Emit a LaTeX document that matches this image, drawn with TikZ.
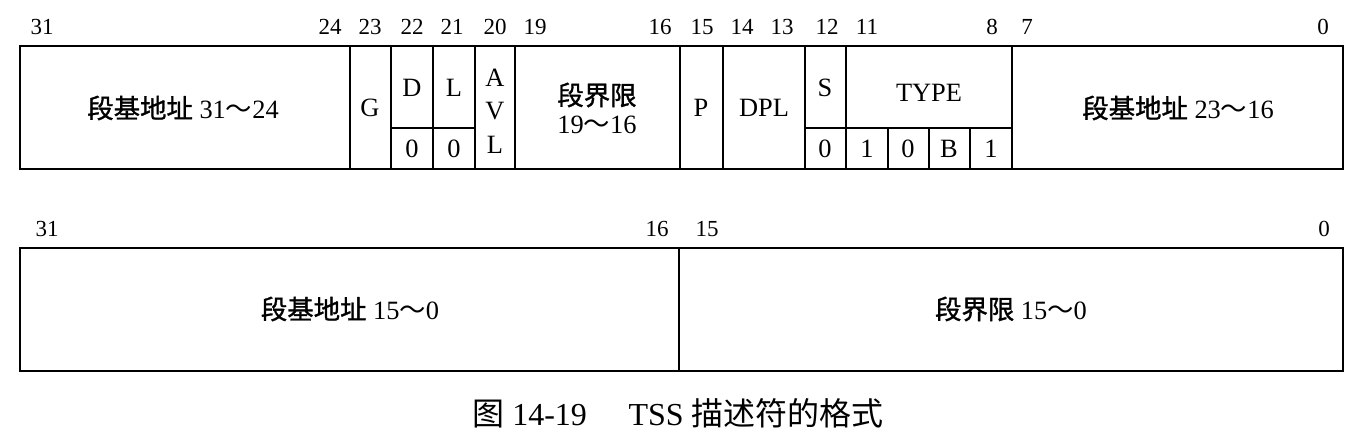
\documentclass[tikz,border=0pt]{standalone}
\usepackage{fontspec}
\setmainfont{Liberation Serif}
\newfontfamily\cjk{Noto Sans CJK SC}
\newfontfamily\cjkb[FakeBold=1.2]{Noto Sans CJK SC}
\begin{document}
\begin{tikzpicture}[x=0.5pt,y=-0.5pt,line width=1pt,
  bit/.style={font=\fontsize{11.5}{13}\selectfont,inner sep=0pt},
  lbl/.style={font=\fontsize{13.2}{15}\selectfont,inner sep=0pt,align=center},
  captxt/.style={font=\fontsize{16}{19}\selectfont,inner sep=0pt}]
\useasboundingbox (0,0) rectangle (1368,446);
% ---- top row frame ----
\draw (20,46) rectangle (1343,169);
\foreach \x in {350,391,433,475,515,680,723,805,846,1012} \draw (\x,46) -- (\x,169);
\draw (391,128) -- (475,128);
\draw (805,128) -- (1012,128);
\foreach \x in {888,929,970} \draw (\x,128) -- (\x,169);
% ---- top row texts ----
\node[lbl] (b3124) at (183,108) {{\cjkb 段基地址} 31{\cjk ～}24};
\node[lbl] (g) at (370,108) {G};
\node[lbl] (d) at (412,88) {D};
\node[lbl] (d0) at (412,149) {0};
\node[lbl] (l) at (454,88) {L};
\node[lbl] (l0) at (454,149) {0};
\node[lbl] (a1) at (495,78) {A};
\node[lbl] (a2) at (495,111) {V};
\node[lbl] (a3) at (495,145) {L};
\node[lbl] (lim1) at (597,95) {\cjkb 段界限};
\node[lbl] (lim2) at (597,125) {19{\cjk ～}16};
\node[lbl] (p) at (701,108) {P};
\node[lbl] (dpl) at (764,108) {DPL};
\node[lbl] (s) at (825,88) {S};
\node[lbl] (s0) at (825,149) {0};
\node[lbl] (type) at (929,93) {TYPE};
\node[lbl] (t1) at (867,149) {1};
\node[lbl] (t2) at (908,149) {0};
\node[lbl] (t3) at (949,149) {B};
\node[lbl] (t4) at (991,149) {1};
\node[lbl] (b2316) at (1178,108) {{\cjkb 段基地址} 23{\cjk ～}16};
% ---- top bit numbers ----
\foreach \x/\t [count=\i] in {42/31,330/24,370/23,412/22,452/21,495/20,535/19,660/16,702/15,742/14,782/13,827/12,867/11,992/8,1027/7,1323/0}
  \node[bit] (tb\i) at (\x,27) {\t};
% ---- bottom row ----
\draw (20,248) rectangle (1343,371);
\draw (679,248) -- (679,371);
\node[lbl] (b150) at (350,309) {{\cjkb 段基地址} 15{\cjk ～}0};
\node[lbl] (lim150) at (1011,309) {{\cjkb 段界限} 15{\cjk ～}0};
\foreach \x/\t [count=\i] in {47/31,657/16,707/15,1324/0}
  \node[bit] (bb\i) at (\x,229) {\t};
% ---- caption ----
\node[captxt] (caption) at (678,413) {{\cjk 图} 14-19\hspace{1.3em}TSS {\cjk 描述符的格式}};
\end{tikzpicture}
\end{document}
